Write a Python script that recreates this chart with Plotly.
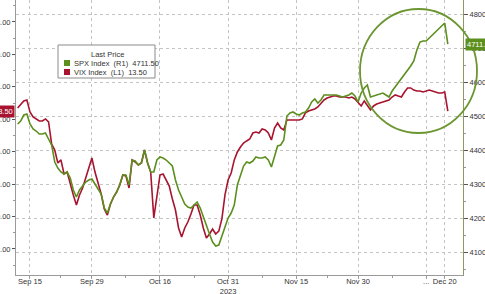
import pandas as pd
import plotly.graph_objects as go

# ---- data (half-day samples, Sep 13 2023 -> Dec 20 2023 trading sessions) ----
spx_values = [
    4476.5, 4485.3, 4502.9, 4505.9, 4476.5, 4461.8, 4455.9, 4447.1, 4447.1, 4450.0,
    4432.4, 4414.7, 4364.7, 4347.1, 4335.3, 4329.4, 4335.3, 4317.7, 4282.4, 4261.8,
    4282.4, 4294.1, 4305.9, 4311.8, 4314.7, 4300.0, 4285.3, 4270.6, 4229.4, 4214.7,
    4241.2, 4261.8, 4276.5, 4297.1, 4326.5, 4326.5, 4297.1, 4370.6, 4367.6, 4355.9,
    4361.8, 4400.0, 4361.8, 4335.3, 4335.3, 4370.6, 4379.4, 4376.5, 4370.6, 4361.8,
    4352.9, 4311.8, 4282.4, 4261.8, 4241.2, 4232.4, 4229.4, 4238.2, 4247.1, 4229.4,
    4205.9, 4176.5, 4152.9, 4129.4, 4117.6, 4120.6, 4147.1, 4170.6, 4200.0, 4214.7,
    4238.2, 4297.1, 4326.5, 4352.9, 4364.7, 4361.8, 4367.6, 4379.4, 4376.5, 4376.5,
    4379.4, 4370.6, 4350.0, 4385.3, 4411.8, 4414.7, 4429.4, 4500.0, 4508.8, 4511.8,
    4505.9, 4502.9, 4508.8, 4511.8, 4523.5, 4541.2, 4550.0, 4538.2, 4547.1, 4561.8,
    4561.8, 4561.8, 4561.8, 4561.8, 4558.8, 4555.9, 4558.8, 4561.8, 4567.6, 4558.8,
    4541.2, 4567.6, 4582.4, 4591.2, 4555.9, 4558.8, 4561.8, 4564.7, 4567.6, 4561.8,
    4555.9, 4573.5, 4585.3, 4600.0, 4611.8, 4623.5, 4635.3, 4647.1, 4661.8, 4694.1,
    4717.6, 4720.6, 4720.6, 4729.4, 4738.2, 4747.1, 4758.8, 4767.6, 4773.5, 4711.5,
]
vix_values = [
    13.31, 13.12, 12.87, 12.81, 13.55, 13.86, 13.98, 14.11, 14.11, 13.98,
    14.17, 15.53, 15.90, 16.70, 16.51, 17.38, 17.26, 18.00, 18.67, 19.29,
    18.67, 18.24, 17.63, 16.95, 16.39, 17.26, 17.87, 18.61, 19.54, 19.91,
    19.23, 18.80, 18.49, 18.06, 17.44, 17.50, 18.24, 16.51, 16.64, 16.82,
    16.70, 15.90, 16.70, 17.26, 20.09, 18.67, 17.44, 17.38, 17.75, 18.12,
    18.92, 19.60, 20.71, 21.27, 20.71, 20.34, 19.85, 19.29, 19.29, 19.91,
    20.71, 21.33, 21.08, 20.77, 21.08, 20.90, 20.15, 18.67, 17.75, 17.32,
    16.51, 16.02, 15.71, 15.47, 15.34, 15.22, 14.85, 14.79, 14.85, 14.60,
    14.66, 14.85, 15.28, 14.54, 14.23, 14.54, 14.66, 14.05, 14.05, 14.05,
    14.05, 14.05, 13.98, 13.61, 13.49, 13.43, 13.37, 13.24, 13.00, 12.81,
    12.69, 12.63, 12.57, 12.57, 12.63, 12.63, 12.63, 12.69, 12.63, 12.75,
    13.00, 13.18, 12.87, 13.18, 13.43, 13.18, 13.06, 13.00, 12.94, 12.87,
    12.81, 12.63, 12.50, 12.57, 12.63, 12.32, 12.07, 12.07, 12.20, 12.26,
    12.26, 12.32, 12.26, 12.20, 12.26, 12.32, 12.38, 12.38, 12.32, 13.50,
]
tick_dates = ["2023-09-15", "2023-09-29", "2023-10-16", "2023-10-31",
              "2023-11-15", "2023-11-30", "2023-12-15", "2023-12-20"]
tick_labels = ["Sep 15", "Sep 29", "Oct 16", "Oct 31<br>2023",
               "Nov 15", "Nov 30", "...", "Dec 20"]
vix_ticks = [8, 10, 12, 14, 16, 18, 20, 22]
spx_ticks = [4100, 4200, 4300, 4400, 4500, 4600, 4700, 4800]
spx_last = "4711.50"
vix_last = "13.50"

# ---- trading-session time axis ----
sessions = [d for d in pd.bdate_range("2023-09-13", "2023-12-20")
            if d != pd.Timestamp("2023-11-23")]
origin = sessions.index(pd.Timestamp("2023-09-15"))
xs = []
for i in range(len(sessions)):
    for half in (0.0, 0.5):
        xs.append(i - origin + half)
tick_pos = [sessions.index(pd.Timestamp(d)) - origin for d in tick_dates]
minor_pos = [(a + b) / 2 for a, b in zip(tick_pos[:-2], tick_pos[1:-1])]

GREEN = "#5c8f1e"
RED = "#a8142f"
GRID = "#c4c4c4"
FONT = "Liberation Sans"

W, H = 485, 294
L, R, T, B = 16, 22, 0, 19
PW, PH = W - L - R, H - T - B


def px(x):
    return (x - L) / PW


def py(y):
    return (H - B - y) / PH


fig = go.Figure()
fig.add_trace(go.Scatter(x=xs, y=spx_values, yaxis="y2", mode="lines",
                         line=dict(color=GREEN, width=1.6), name="SPX Index"))
fig.add_trace(go.Scatter(x=xs, y=vix_values, yaxis="y", mode="lines",
                         line=dict(color=RED, width=1.6), name="VIX Index"))

fig.update_layout(
    width=W, height=H,
    margin=dict(l=L, r=R, t=T, b=B, pad=0, autoexpand=False),
    paper_bgcolor="white", plot_bgcolor="white",
    showlegend=False,
    font=dict(family=FONT, size=7.5, color="#333333"),
    xaxis=dict(range=[-2.26, 69.95], tickvals=tick_pos, ticktext=tick_labels,
               automargin=False, ticklabelstandoff=-4,
               showgrid=True, gridcolor=GRID, griddash="dot", gridwidth=1,
               zeroline=False, showline=True, linecolor="#9a9a9a", linewidth=1,
               ticks="outside", ticklen=3, tickcolor="#9a9a9a",
               tickfont=dict(size=7.5, color="#333"),
               minor=dict(tickvals=minor_pos, ticks="outside", ticklen=2,
                          tickcolor="#9a9a9a", showgrid=False)),
    yaxis=dict(range=[23.61, 6.643], tickvals=vix_ticks, tickformat=".2f",
               side="left", showgrid=False, zeroline=False, automargin=False,
               showline=True, linecolor="#9a9a9a", linewidth=1,
               ticks="outside", ticklen=3, tickcolor="#555",
               tickfont=dict(size=7.5, color="#333"),
               minor=dict(dtick=1, ticks="outside", ticklen=2, tickcolor="#999")),
    yaxis2=dict(range=[4032.4, 4841.2], tickvals=spx_ticks, overlaying="y",
                side="right", showgrid=True, gridcolor=GRID, griddash="dot",
                zeroline=False, showline=True, linecolor="#8b9a5e", linewidth=1,
                automargin=False,
                ticks="outside", ticklen=4, tickcolor="#555",
                tickfont=dict(size=7.5, color="#333"),
                minor=dict(dtick=50, ticks="outside", ticklen=2, tickcolor="#999")),
)

# highlight circle
fig.add_shape(type="circle", xref="paper", yref="paper",
              x0=px(360), x1=px(477), y0=py(133), y1=py(9),
              line=dict(color="#6b9630", width=1.8), fillcolor="rgba(0,0,0,0)")

# legend box
fig.add_shape(type="rect", xref="paper", yref="paper",
              x0=px(58), x1=px(155), y0=py(78), y1=py(45),
              line=dict(color="#8a8a8a", width=1), fillcolor="white")
fig.add_shape(type="rect", xref="paper", yref="paper",
              x0=px(64), x1=px(70), y0=py(66), y1=py(60),
              line=dict(width=0), fillcolor=GREEN)
fig.add_shape(type="rect", xref="paper", yref="paper",
              x0=px(64), x1=px(70), y0=py(75), y1=py(69),
              line=dict(width=0), fillcolor=RED)
fig.add_annotation(xref="paper", yref="paper", x=px(107), y=py(54.5),
                   text="Last Price", showarrow=False, xanchor="center",
                   yanchor="middle", font=dict(size=7.5, color="#333"))
fig.add_annotation(xref="paper", yref="paper", x=px(72), y=py(63),
                   text="SPX Index  (R1)  " + spx_last, showarrow=False,
                   xanchor="left", yanchor="middle", font=dict(size=7.5, color="#333"))
fig.add_annotation(xref="paper", yref="paper", x=px(72), y=py(72),
                   text="VIX Index  (L1)  " + vix_last, showarrow=False,
                   xanchor="left", yanchor="middle", font=dict(size=7.5, color="#333"))

# last-price tags
fig.add_annotation(xref="paper", yref="y2", x=px(465), y=float(spx_last),
                   text=spx_last, showarrow=False, xanchor="left", yanchor="middle",
                   bgcolor=GREEN, borderpad=1, font=dict(size=7.5, color="white"))
fig.add_annotation(xref="paper", yref="y", x=px(15), y=float(vix_last),
                   text=vix_last, showarrow=False, xanchor="right", yanchor="middle",
                   bgcolor=RED, borderpad=1, font=dict(size=7.5, color="white"))

fig.write_html("out.html")
